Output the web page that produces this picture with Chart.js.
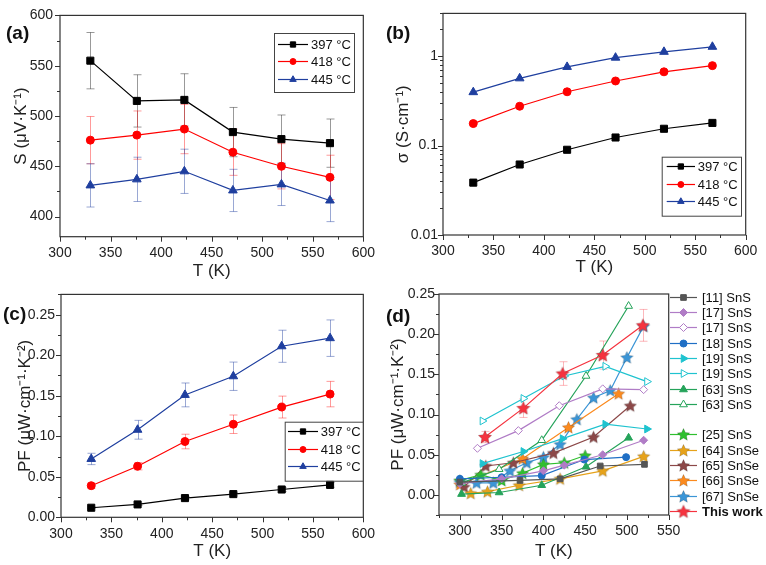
<!DOCTYPE html>
<html>
<head>
<meta charset="utf-8">
<script src="https://cdn.jsdelivr.net/npm/chart.js@4"></script>
<style>
body { margin: 0; background: #fff; width: 766px; height: 565px; overflow: hidden; position: relative; }
.pane { position: absolute; }
.tag { position: absolute; font: bold 19px "Liberation Sans", Arial, sans-serif; color: #111; }
</style>
</head>
<body>
<canvas id="chartA" class="pane" width="383" height="280" style="left:0;top:0"></canvas>
<canvas id="chartB" class="pane" width="383" height="280" style="left:383px;top:0"></canvas>
<canvas id="chartC" class="pane" width="383" height="285" style="left:0;top:280px"></canvas>
<canvas id="chartD" class="pane" width="383" height="285" style="left:383px;top:280px"></canvas>
<div class="tag" style="left:6px;top:22px">(a)</div>
<div class="tag" style="left:386px;top:22px">(b)</div>
<div class="tag" style="left:3px;top:303px">(c)</div>
<div class="tag" style="left:386px;top:305px">(d)</div>
<script>
// measured temperatures (K)
const temps = [330, 376, 423, 471, 519, 567];
const sampleLabels = ['397 °C', '418 °C', '445 °C'];

// (a) Seebeck coefficient
const seebeck397 = [555, 515, 516, 484, 477, 473];
const seebeck418 = [476, 481, 487, 464, 450, 439];
const seebeck445 = [431, 437, 445, 426, 432, 416];
const seebeckErr397 = [28, 26, 26, 24.5, 24, 24];
const seebeckErr418 = [23.5, 24, 24.5, 23, 22.5, 22];
const seebeckErr445 = [21.5, 22, 22, 21, 21, 21];

// (b) electrical conductivity
const sigma397 = [0.0385, 0.0614, 0.0897, 0.123, 0.154, 0.179];
const sigma418 = [0.176, 0.275, 0.399, 0.527, 0.667, 0.782];
const sigma445 = [0.395, 0.564, 0.757, 0.96, 1.116, 1.27];

// (c) power factor
const pf397 = [0.0118, 0.0159, 0.0237, 0.0286, 0.0343, 0.040];
const pf418 = [0.039, 0.063, 0.0935, 0.1148, 0.136, 0.152];
const pf445 = [0.072, 0.108, 0.151, 0.174, 0.211, 0.221];
const pfErr397 = [0.001, 0.0015, 0.002, 0.002, 0.0025, 0.003];
const pfErr418 = [0.003, 0.0045, 0.009, 0.0114, 0.0135, 0.0157];
const pfErr445 = [0.007, 0.0116, 0.0147, 0.0175, 0.0198, 0.0225];

// (d) literature comparison
const ref11T = [300, 372, 420, 468, 521];
const ref11PF = [0.016, 0.018, 0.020, 0.036, 0.038];
const ref17aT = [300, 350, 400, 425, 471, 520];
const ref17aPF = [0.014, 0.020, 0.030, 0.037, 0.050, 0.068];
const ref17bT = [321, 370, 419, 471, 520];
const ref17bPF = [0.058, 0.080, 0.111, 0.132, 0.131];
const ref18T = [300, 350, 398, 449, 499];
const ref18PF = [0.020, 0.022, 0.024, 0.044, 0.047];
const ref19aT = [327, 376, 423, 474, 524];
const ref19aPF = [0.039, 0.054, 0.070, 0.088, 0.082];
const ref19bT = [327, 376, 425, 474, 524];
const ref19bPF = [0.092, 0.120, 0.148, 0.160, 0.141];
const ref63aT = [302, 347, 398, 451, 502];
const ref63aPF = [0.001, 0.003, 0.012, 0.035, 0.071];
const ref63bT = [302, 347, 398, 451, 502];
const ref63bPF = [0.015, 0.032, 0.068, 0.148, 0.235];
const ref25T = [300, 325, 350, 375, 400, 425, 450];
const ref25PF = [0.018, 0.025, 0.018, 0.027, 0.038, 0.040, 0.049];
const ref64T = [313, 333, 371, 420, 471, 520];
const ref64PF = [0.002, 0.004, 0.012, 0.020, 0.030, 0.048];
const ref65T = [305, 331, 364, 412, 460, 504];
const ref65PF = [0.010, 0.036, 0.040, 0.052, 0.072, 0.111];
const ref66T = [300, 375, 430, 490];
const ref66PF = [0.013, 0.045, 0.084, 0.126];
const ref67T = [300, 320, 340, 360, 380, 400, 420, 440, 460, 480, 500, 520];
const ref67PF = [0.016, 0.015, 0.015, 0.030, 0.040, 0.047, 0.063, 0.094, 0.121, 0.130, 0.171, 0.210];
const thisWorkT = temps.slice(0, 5);
const thisWorkPF = pf445.slice(0, 5);
const thisWorkErr = pfErr445.slice(0, 5);

const FONT = '"Liberation Sans", Arial, sans-serif';
const BLACK = '#000000', RED = '#ff0000', BLUE = '#1f3f9f';

function starImage(color, r) {
    const c = document.createElement('canvas');
    const s = Math.ceil(r * 2 + 2);
    c.width = s; c.height = s;
    const g = c.getContext('2d');
    g.beginPath();
    for (let k = 0; k < 10; k++) {
        const rr = k % 2 ? r * 0.48 : r;
        const ang = -Math.PI / 2 + k * Math.PI / 5;
        g.lineTo(s / 2 + rr * Math.cos(ang), s / 2 + 0.5 + rr * Math.sin(ang));
    }
    g.closePath();
    g.fillStyle = color;
    g.fill();
    g.lineWidth = 0.7;
    g.strokeStyle = 'rgba(0,0,0,0.25)';
    g.stroke();
    return c;
}

function series(label, xs, ys, color, shape, r, extra) {
    return Object.assign({
        label: label,
        data: xs.map((x, i) => ({x: x, y: ys[i]})),
        borderColor: color,
        backgroundColor: color,
        pointBackgroundColor: color,
        pointBorderColor: color,
        borderWidth: 1.2,
        pointStyle: shape,
        pointRadius: r,
        pointHoverRadius: r,
        pointBorderWidth: 1,
        pointRotation: 0
    }, extra || {});
}

// frame + major/minor tick marks
const frameTicks = {
    id: 'frameTicks',
    afterDraw(chart, args, opts) {
        const {ctx, chartArea: a} = chart;
        ctx.save();
        ctx.strokeStyle = '#333';
        ctx.lineWidth = 1.2;
        ctx.strokeRect(a.left, a.top, a.right - a.left, a.bottom - a.top);
        ctx.lineWidth = 1;
        ['x', 'y'].forEach(id => {
            const s = chart.scales[id], t = opts[id];
            if (!t) return;
            const vals = [];
            if (t.log) {
                for (let d = Math.floor(Math.log10(s.min)); d <= Math.ceil(Math.log10(s.max)); d++) {
                    for (let m = 1; m < 10; m++) {
                        const v = m * Math.pow(10, d);
                        if (v >= s.min * 0.999 && v <= s.max * 1.001) vals.push([v, m === 1]);
                    }
                }
            } else {
                const n0 = Math.ceil(s.min / t.minor - 1e-6), n1 = Math.floor(s.max / t.minor + 1e-6);
                for (let n = n0; n <= n1; n++) {
                    const v = n * t.minor;
                    vals.push([v, Math.abs(v / t.major - Math.round(v / t.major)) < 1e-6]);
                }
            }
            ctx.beginPath();
            vals.forEach(([v, major]) => {
                const p = Math.round(s.getPixelForValue(v)) + 0.5;
                const len = major ? 5 : 3;
                if (id === 'x') { ctx.moveTo(p, a.bottom); ctx.lineTo(p, a.bottom + len); }
                else { ctx.moveTo(a.left, p); ctx.lineTo(a.left - len, p); }
            });
            ctx.stroke();
        });
        ctx.restore();
    }
};

const errorBars = {
    id: 'errorBars',
    beforeDatasetsDraw(chart) {
        const ctx = chart.ctx;
        const xs = chart.scales.x, ys = chart.scales.y;
        chart.data.datasets.forEach(ds => {
            if (!ds.errors) return;
            ctx.save();
            ctx.strokeStyle = ds.errorColor;
            ctx.lineWidth = 1;
            ctx.beginPath();
            ds.data.forEach((p, j) => {
                const e = ds.errors[j];
                const x = Math.round(xs.getPixelForValue(p.x)) + 0.5;
                const y1 = ys.getPixelForValue(p.y + e), y2 = ys.getPixelForValue(p.y - e);
                ctx.moveTo(x, y1); ctx.lineTo(x, y2);
                ctx.moveTo(x - 4, y1); ctx.lineTo(x + 4, y1);
                ctx.moveTo(x - 4, y2); ctx.lineTo(x + 4, y2);
            });
            ctx.stroke();
            ctx.restore();
        });
    }
};

const boxLegend = {
    id: 'boxLegend',
    afterDraw(chart, args, o) {
        if (!o.x0) return;
        const ctx = chart.ctx;
        ctx.save();
        if (o.box) {
            ctx.strokeStyle = '#444';
            ctx.lineWidth = 1;
            ctx.strokeRect(o.box[0] + 0.5, o.box[1] + 0.5, o.box[2], o.box[3]);
        }
        let row = 0;
        chart.data.datasets.forEach((ds, i) => {
            if (o.gapAfter !== undefined && i === o.gapAfter + 1) row++;
            const y = Math.round(o.y0 + row * o.step) + 0.5;
            row++;
            ctx.strokeStyle = ds.borderColor;
            ctx.lineWidth = 1.2;
            ctx.beginPath(); ctx.moveTo(o.x0, y); ctx.lineTo(o.x1, y); ctx.stroke();
            ctx.fillStyle = ds.pointBackgroundColor;
            ctx.strokeStyle = ds.pointBorderColor;
            ctx.lineWidth = ds.pointBorderWidth;
            const r = o.markerScale ? ds.pointRadius * o.markerScale : ds.pointRadius;
            Chart.helpers.drawPoint(ctx, {pointStyle: ds.pointStyle, radius: r,
                rotation: ds.pointRotation, borderWidth: ds.pointBorderWidth}, (o.x0 + o.x1) / 2, y);
            ctx.fillStyle = '#111';
            ctx.font = (ds.legendBold ? 'bold ' : '') + o.fontSize + 'px ' + FONT;
            ctx.textBaseline = 'middle';
            ctx.fillText(ds.label, o.tx, y + 1);
        });
        ctx.restore();
    }
};

const tickFont = {family: FONT, size: 14};
const titleFont = {family: FONT, size: 17, lineHeight: 1};

function makeAxis(min, max, step, fmt, fitSize, isX, title, titlePad, tickPad, logType) {
    return {
        type: logType ? 'logarithmic' : 'linear',
        min: min, max: max,
        grid: {display: false, drawTicks: false},
        border: {display: false},
        ticks: {
            font: tickFont, color: '#222', padding: tickPad, autoSkip: false, maxRotation: 0,
            stepSize: logType ? undefined : step,
            callback: fmt
        },
        title: {display: true, text: title, font: titleFont, color: '#222', padding: titlePad},
        afterFit: function(scale) {
            if (isX) scale.height = fitSize; else scale.width = fitSize;
        }
    };
}

const fmtInt = v => (Math.abs(v % 50) < 1e-6 ? String(v) : '');
const fmtPF = v => (v >= -1e-9 && Math.abs(v / 0.05 - Math.round(v / 0.05)) < 1e-6 ? v.toFixed(2) : '');
const fmtLog = v => {
    const l = Math.log10(v);
    return Math.abs(l - Math.round(l)) < 1e-6 ? String(Math.pow(10, Math.round(l))) : '';
};

function threeSeries(ys, errs) {
    const opts = [[BLACK, 'rect', 5, 'rgba(0,0,0,0.4)'], [RED, 'circle', 4, 'rgba(255,0,0,0.4)'], [BLUE, 'triangle', 5, 'rgba(31,63,159,0.45)']];
    return ys.map((y, k) => series(sampleLabels[k], temps, y, opts[k][0], opts[k][1], opts[k][2],
        errs ? {errors: errs[k], errorColor: opts[k][3]} : {}));
}

function baseOptions(padTop, padRight, legend, ticks) {
    return {
        responsive: false,
        animation: false,
        layout: {padding: {left: 0, top: padTop, right: padRight, bottom: 0}},
        plugins: {legend: {display: false}, tooltip: {enabled: false}, boxLegend: legend, frameTicks: ticks}
    };
}

// (a)
const optA = baseOptions(10, 16.3,
    {box: [274, 33, 80, 59], x0: 278, x1: 308, tx: 311, y0: 43.7, step: 17.6, fontSize: 13, markerScale: 0.75},
    {x: {major: 50, minor: 25}, y: {major: 50, minor: 25}});
optA.scales = {
    x: makeAxis(300, 600, 25, fmtInt, 43.3, true, 'T (K)', {top: 0, bottom: 0}, 8),
    y: makeAxis(380, 600, 25, fmtInt, 60, false, 'S (μV·K⁻¹)', {top: 13, bottom: 0}, 7)
};
new Chart(document.getElementById('chartA'), {
    type: 'line',
    data: {datasets: threeSeries([seebeck397, seebeck418, seebeck445], [seebeckErr397, seebeckErr418, seebeckErr445])},
    options: optA,
    plugins: [errorBars, frameTicks, boxLegend]
});

// (b)
const optB = baseOptions(10, 20.3,
    {box: [278.7, 156.7, 79.3, 59], x0: 283.7, x1: 312, tx: 314.7, y0: 166, step: 17.6, fontSize: 13, markerScale: 0.75},
    {x: {major: 50, minor: 25}, y: {log: true}});
optB.scales = {
    x: makeAxis(300, 600, 25, fmtInt, 45, true, 'T (K)', {top: 0, bottom: 4}, 8),
    y: makeAxis(0.01, 3, null, fmtLog, 60, false, 'σ (S·cm⁻¹)', {top: 12, bottom: 0}, 5, true)
};
new Chart(document.getElementById('chartB'), {
    type: 'line',
    data: {datasets: threeSeries([sigma397, sigma418, sigma445])},
    options: optB,
    plugins: [frameTicks, boxLegend]
});

// (c)
const optC = baseOptions(12.7, 17.3,
    {box: [284.7, 141.7, 78.3, 59], x0: 288, x1: 318, tx: 320.7, y0: 151, step: 17.6, fontSize: 13, markerScale: 0.75},
    {x: {major: 50, minor: 25}, y: {major: 0.05, minor: 0.025}});
optC.scales = {
    x: makeAxis(300, 600, 25, fmtInt, 47.7, true, 'T (K)', {top: 0, bottom: 5}, 8),
    y: makeAxis(0, 0.275, 0.025, fmtPF, 61, false, 'PF (μW·cm⁻¹·K⁻²)', {top: 17, bottom: 0}, 6)
};
new Chart(document.getElementById('chartC'), {
    type: 'line',
    data: {datasets: threeSeries([pf397, pf418, pf445], [pfErr397, pfErr418, pfErr445])},
    options: optC,
    plugins: [errorBars, frameTicks, boxLegend]
});

// (d)
const GRAY = '#555555', PURPLE = '#b07cc6', DBLUE = '#1f6fc5', CYAN = '#1fc3cf', GREEN = '#25a35a';
const dSets = [
    series('[11] SnS', ref11T, ref11PF, GRAY, 'rect', 4),
    series('[17] SnS', ref17aT, ref17aPF, PURPLE, 'rectRot', 4),
    series('[17] SnS', ref17bT, ref17bPF, PURPLE, 'rectRot', 4, {pointBackgroundColor: '#fff'}),
    series('[18] SnS', ref18T, ref18PF, DBLUE, 'circle', 3.5),
    series('[19] SnS', ref19aT, ref19aPF, CYAN, 'triangle', 4.5, {pointRotation: 90}),
    series('[19] SnS', ref19bT, ref19bPF, CYAN, 'triangle', 4.5, {pointRotation: 90, pointBackgroundColor: '#fff'}),
    series('[63] SnS', ref63aT, ref63aPF, GREEN, 'triangle', 4.5),
    series('[63] SnS', ref63bT, ref63bPF, GREEN, 'triangle', 4.5, {pointBackgroundColor: '#fff'}),
    series('[25] SnS', ref25T, ref25PF, '#2fbf2f', starImage('#2fbf2f', 6.5), 6),
    series('[64] SnSe', ref64T, ref64PF, '#e6a21a', starImage('#e6a21a', 6.5), 6),
    series('[65] SnSe', ref65T, ref65PF, '#8c4848', starImage('#8c4848', 6.5), 6),
    series('[66] SnSe', ref66T, ref66PF, '#fb8a1e', starImage('#fb8a1e', 6.5), 6),
    series('[67] SnSe', ref67T, ref67PF, '#3b95d6', starImage('#3b95d6', 6.5), 6),
    series('This work', thisWorkT, thisWorkPF, '#f5333f', starImage('#f5333f', 7), 6,
        {legendBold: true, order: -1, errors: thisWorkErr, errorColor: 'rgba(245,51,63,0.35)'})
];
const optD = baseOptions(14, 97.3,
    {x0: 287, x1: 314, tx: 319, y0: 16.7, step: 15.3, gapAfter: 7, fontSize: 13},
    {x: {major: 50, minor: 25}, y: {major: 0.05, minor: 0.025}});
optD.scales = {
    x: makeAxis(275, 550, 25, fmtInt, 50, true, 'T (K)', {top: 0, bottom: 5}, 8),
    y: makeAxis(-0.025, 0.25, 0.025, fmtPF, 56, false, 'PF (μW·cm⁻¹·K⁻²)', {top: 7, bottom: 0}, 4)
};
new Chart(document.getElementById('chartD'), {
    type: 'line',
    data: {datasets: dSets},
    options: optD,
    plugins: [errorBars, frameTicks, boxLegend]
});
</script>
</body>
</html>
